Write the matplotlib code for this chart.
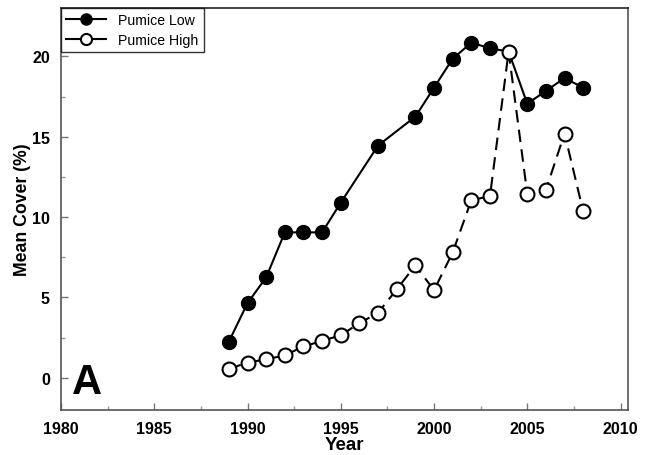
import matplotlib
matplotlib.use("Agg")
import matplotlib.pyplot as plt
from matplotlib.ticker import MultipleLocator
from matplotlib.lines import Line2D

plt.rcParams['font.family'] = ['Liberation Sans', 'DejaVu Sans']

series_names = ['Pumice Low', 'Pumice High']

years_low = [1989, 1990, 1991, 1992, 1993, 1994, 1995, 1997, 1999, 2000, 2001, 2002, 2003, 2004, 2005, 2006, 2007, 2008]
cover_low = [2.25, 4.65, 6.25, 9.05, 9.05, 9.05, 10.9, 14.45, 16.25, 18.05, 19.85, 20.85, 20.5, 20.3, 17.05, 17.85, 18.65, 18.05]

years_high = [1989, 1990, 1991, 1992, 1993, 1994, 1995, 1996, 1997, 1998, 1999, 2000, 2001, 2002, 2003, 2004, 2005, 2006, 2007, 2008]
cover_high = [0.55, 0.95, 1.15, 1.4, 1.95, 2.3, 2.65, 3.4, 4.05, 5.5, 7.0, 5.45, 7.8, 11.05, 11.3, 20.3, 11.45, 11.7, 15.2, 10.35]

fig = plt.figure(figsize=(6.47, 4.56), dpi=100)
ax = fig.add_axes([0.0943, 0.0987, 0.8763, 0.8813])

ax.plot(years_low, cover_low, color='black', lw=1.5, marker='o', ms=10,
        mfc='black', mec='black', zorder=3)
ax.plot(years_high, cover_high, color='black', lw=1.5, ls=(0, (6, 3.5)), marker='o', ms=10,
        mfc='white', mec='black', mew=1.5, zorder=4)

ax.set_xlim(1980, 2010.4)
ax.set_ylim(-2, 23)
ax.xaxis.set_major_locator(MultipleLocator(5))
ax.xaxis.set_minor_locator(MultipleLocator(2.5))
ax.yaxis.set_major_locator(MultipleLocator(5))
ax.yaxis.set_minor_locator(MultipleLocator(2.5))
ax.tick_params(which='major', direction='in', length=5, width=1, color='#777777', labelsize=11.5, pad=8)
ax.tick_params(which='minor', direction='in', length=3, width=1, color='#999999')
for lab in ax.get_xticklabels() + ax.get_yticklabels():
    lab.set_fontweight('bold')
for s in ax.spines.values():
    s.set_color('#555555')
    s.set_linewidth(1.2)
ax.spines['top'].set_color('#222222')

ax.set_xlabel('Year', fontsize=13.5, fontweight='bold', labelpad=0)
ax.set_ylabel('Mean Cover (%)', fontsize=12.7, fontweight='bold', labelpad=1)

ax.text(1980.6, -0.93, 'A', fontsize=30, fontweight='bold', ha='left', va='baseline')

handles = [
    Line2D([], [], color='black', lw=1.5, marker='o', ms=8, mfc='black', mec='black'),
    Line2D([], [], color='black', lw=1.5, marker='o', ms=8, mfc='white', mec='black', mew=1.5),
]
leg = ax.legend(handles, series_names, loc='upper left', fontsize=10.2, frameon=True, fancybox=False,
                borderaxespad=0, handlelength=2.8, borderpad=0.35, labelspacing=0.4,
                handletextpad=0.9)
leg.get_frame().set_edgecolor('black')
leg.get_frame().set_linewidth(1.0)

fig.savefig('out.png', dpi=100)
